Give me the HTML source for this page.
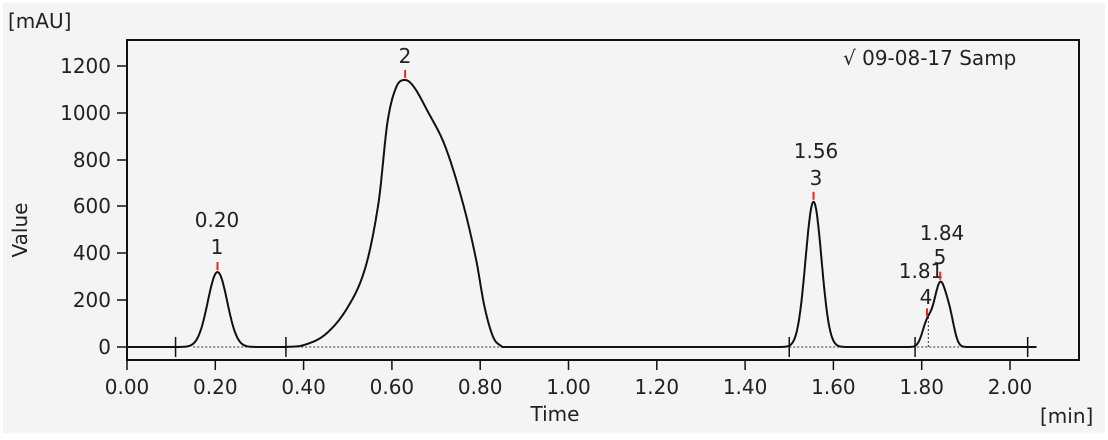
<!DOCTYPE html><html><head><style>body{margin:0;background:#fff}svg{display:block;font-family:"DejaVu Sans","Liberation Sans",sans-serif}</style></head><body>
<svg id="s" width="1108" height="440" xmlns="http://www.w3.org/2000/svg">
<rect x="3" y="3" width="1102" height="430" fill="#f4f4f4"/>
<rect x="127" y="40" width="952" height="320" fill="none" stroke="#111" stroke-width="2"/>
<text x="8" y="28" font-size="20" fill="#222">[mAU]</text>
<g font-size="20" fill="#222" text-anchor="end">
<text x="111" y="73">1200</text><text x="111" y="120">1000</text><text x="111" y="167">800</text><text x="111" y="213">600</text><text x="111" y="260">400</text><text x="111" y="307">200</text><text x="111" y="354">0</text></g>
<g stroke="#111" stroke-width="1.5"><line x1="117" y1="66" x2="127" y2="66"/><line x1="117" y1="113" x2="127" y2="113"/><line x1="117" y1="160" x2="127" y2="160"/><line x1="117" y1="206" x2="127" y2="206"/><line x1="117" y1="253" x2="127" y2="253"/><line x1="117" y1="300" x2="127" y2="300"/><line x1="117" y1="347" x2="127" y2="347"/></g>
<g id="xt" font-size="20" fill="#222" text-anchor="middle"></g>
<text x="27" y="230" font-size="20" fill="#222" text-anchor="middle" transform="rotate(-90 27 230)">Value</text>
<text x="555" y="421" font-size="20" fill="#222" text-anchor="middle">Time</text>
<text x="1040" y="423" font-size="20" fill="#222">[min]</text>
<text x="843" y="65" font-size="20" fill="#222">√ 09-08-17 Samp</text>
<g font-size="20" fill="#222" text-anchor="middle">
<text x="217" y="227">0.20</text><text x="217" y="254">1</text>
<text x="405" y="63">2</text>
<text x="816" y="158">1.56</text><text x="816" y="185">3</text>
<text x="942" y="240">1.84</text><text x="940" y="264">5</text>
<text x="921" y="278">1.81</text><text x="926" y="304">4</text></g>
<g id="pl"></g>
</svg>
<script>
const X=t=>127+t*441.5, Y=v=>347-v*0.2342;
let xt=document.getElementById('xt'),h='';
for(let i=0;i<=10;i++){let t=i*0.2,x=X(t);h+=`<text x="${x}" y="394">${t.toFixed(2)}</text><line x1="${x}" y1="360" x2="${x}" y2="370" stroke="#111" stroke-width="1.5"/>`;}
xt.innerHTML=h;
const g=(t,m,a,s)=>a*Math.exp(-0.5*((t-m)/s)**2);
const P2=[[0.36,0],[0.40,8],[0.45,55],[0.50,170],[0.54,340],[0.57,620],[0.59,960],[0.61,1110],[0.63,1140],[0.65,1110],[0.68,1010],[0.72,860],[0.76,620],[0.79,380],[0.81,170],[0.83,40],[0.85,0]];
function cr(t){if(t<=0.36||t>=0.85)return 0;let i=0;while(P2[i+1][0]<t)i++;
let p0=P2[Math.max(i-1,0)],p1=P2[i],p2=P2[i+1],p3=P2[Math.min(i+2,P2.length-1)];
let u=(t-p1[0])/(p2[0]-p1[0]);let m1=(p2[1]-p0[1])/(p2[0]-p0[0])*(p2[0]-p1[0]),m2=(p3[1]-p1[1])/(p3[0]-p1[0])*(p2[0]-p1[0]);
let u2=u*u,u3=u2*u;return (2*u3-3*u2+1)*p1[1]+(u3-2*u2+u)*m1+(-2*u3+3*u2)*p2[1]+(u3-u2)*m2;}
function f(t){return g(t,0.205,320,0.022)+cr(t)+g(t,1.555,620,0.018)+g(t,1.812,95,0.011)+g(t,1.842,270,0.014)+g(t,1.865,90,0.01);}
let d='';for(let t=0;t<=2.06;t+=0.001){d+=(d?'L':'M')+X(t).toFixed(1)+','+Y(Math.max(f(t),0)).toFixed(1);}
let s=`<line x1="${X(0.15)}" y1="347" x2="${X(2.06)}" y2="347" stroke="#333" stroke-dasharray="2,2"/>`;
s+=`<path d="${d}" fill="none" stroke="#111" stroke-width="2"/>`;
for(const t of [0.11,0.36,1.50,1.785,2.04])s+=`<line x1="${X(t)}" y1="337" x2="${X(t)}" y2="357" stroke="#111" stroke-width="1.5"/>`;
s+=`<line x1="${X(1.815)}" y1="347" x2="${X(1.815)}" y2="${Y(f(1.815))}" stroke="#333" stroke-dasharray="2,2"/>`;
for(const t of [0.205,0.63,1.555,1.812,1.842]){let y=Y(f(t));s+=`<line x1="${X(t)}" y1="${y-2}" x2="${X(t)}" y2="${y-10}" stroke="#e22" stroke-width="2"/>`;}
document.getElementById('pl').innerHTML=s;
</script>
</body></html>
